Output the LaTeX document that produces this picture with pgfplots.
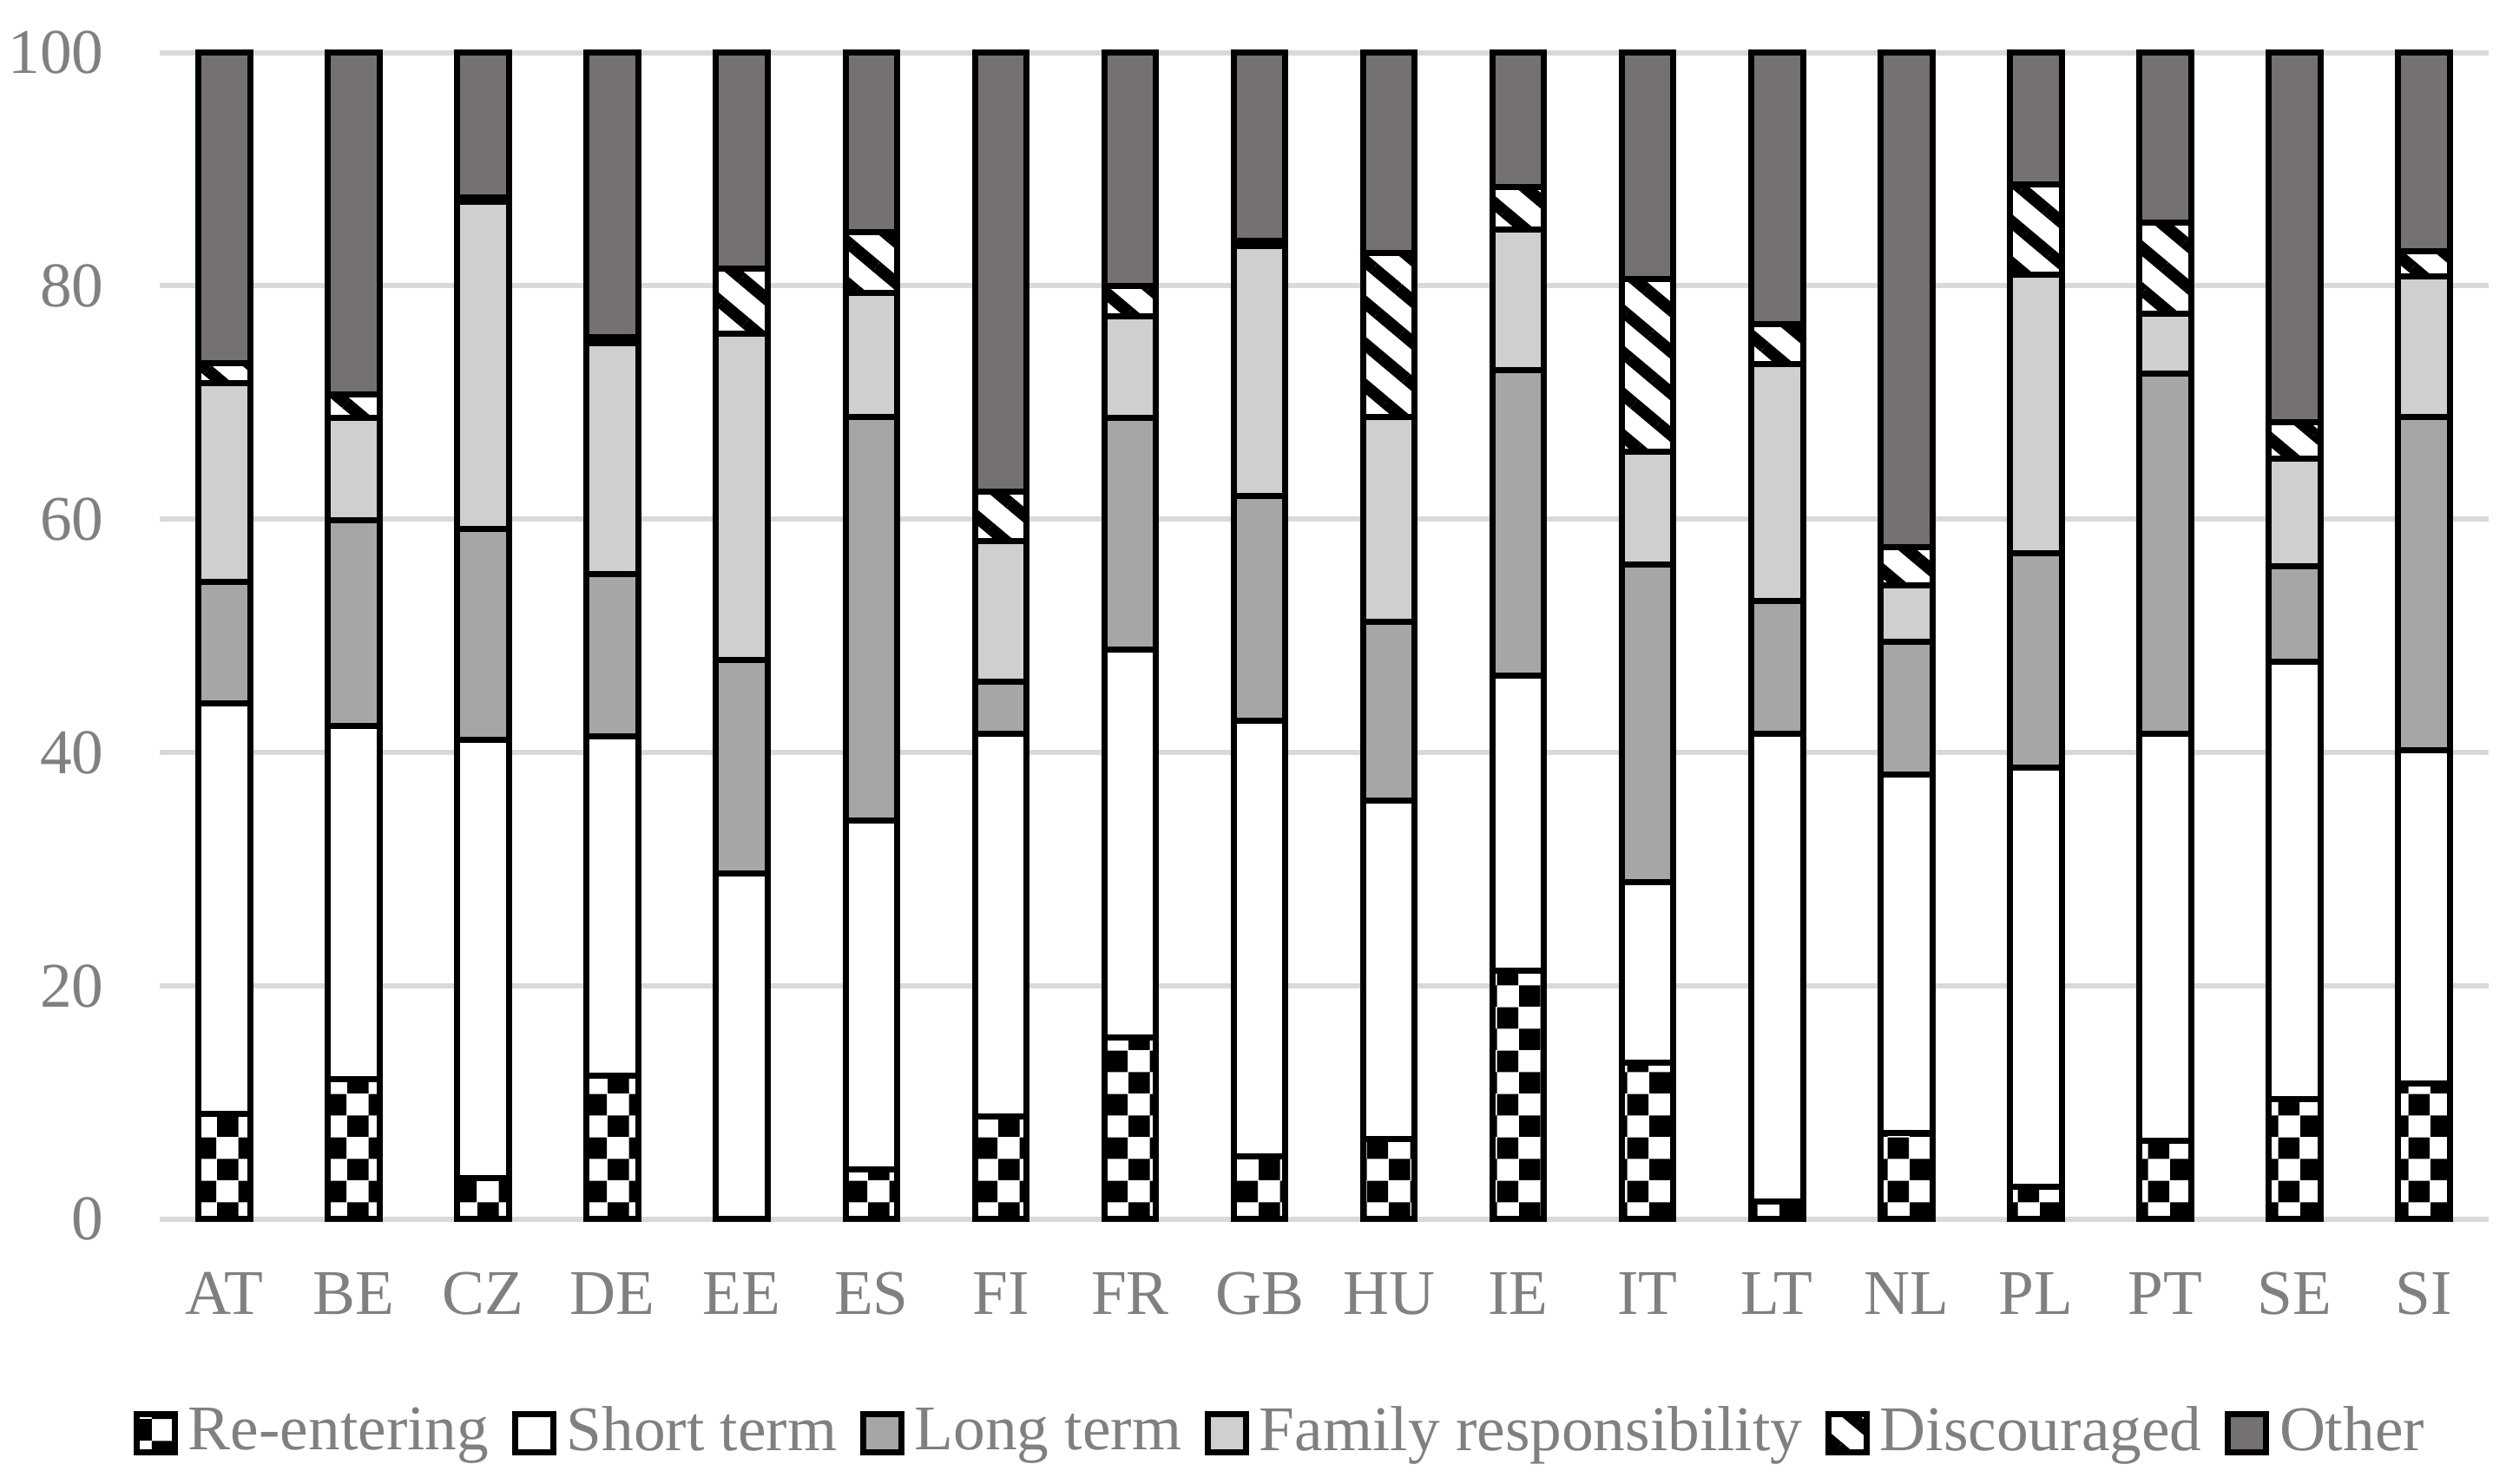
\documentclass[border=0pt]{standalone}
\usepackage{fontspec}
\setmainfont{Liberation Serif}
\usepackage{pgfplots}
\pgfplotsset{compat=1.18}
\usepackage{pgfplotstable}
\usetikzlibrary{patterns,patterns.meta}

\definecolor{othergray}{HTML}{767171}
\definecolor{famgray}{HTML}{D0CECE}
\definecolor{longgray}{HTML}{A6A6A6}
\definecolor{gridgray}{HTML}{D9D9D9}
\definecolor{labelgray}{HTML}{808080}

% large checker board (Excel style)
\pgfdeclarepatternformonly{bigchecker}{\pgfpointorigin}{\pgfqpoint{7.5pt}{7.5pt}}{\pgfqpoint{7.5pt}{7.5pt}}{%
  \pgfpathrectangle{\pgfpointorigin}{\pgfqpoint{3.76pt}{3.76pt}}%
  \pgfpathrectangle{\pgfqpoint{3.75pt}{3.75pt}}{\pgfqpoint{3.76pt}{3.76pt}}%
  \pgfusepath{fill}}

% shares by reason, stacked to 100
\pgfplotstableread{
x  cc  re    short long  fam   disc  other
0  AT  9.0   35.2  10.4  17.1  1.7   26.6
1  BE  12.0  30.3  17.6  8.8   2.0   29.3
2  CZ  3.5   37.6  18.1  28.0  0.4   12.4
3  DE  12.3  29.1  13.9  19.8  0.5   24.4
4  EE  0.0   29.6  18.3  28.0  5.6   18.5
5  ES  4.3   29.9  34.6  10.6  5.2   15.4
6  FI  8.8   32.8  4.5   12.0  4.3   37.6
7  FR  15.6  33.2  19.9  8.7   2.6   20.0
8  GB  5.4   37.3  19.3  21.4  0.5   16.1
9  HU  6.9   29.0  15.3  17.6  14.0  17.2
10 IE  21.3  25.3  26.2  12.0  3.7   11.5
11 IT  13.4  15.5  27.2  9.7   14.8  19.4
12 LT  1.5   40.1  11.4  20.3  3.4   23.3
13 NL  7.4   30.7  11.4  4.8   3.3   42.4
14 PL  2.8   35.9  18.4  23.9  7.7   11.3
15 PT  6.7   34.9  30.9  5.1   7.8   14.6
16 SE  10.3  37.5  8.2   9.2   3.1   31.7
17 SI  11.6  28.6  28.6  12.0  2.2   17.0
}\shares

\begin{document}
\begin{tikzpicture}
\begin{axis}[
    name=ax,
    scale only axis,
    width=402.4pt, height=201.6pt,
    ybar stacked, bar width=0.4,
    xmin=-0.5, xmax=17.5, ymin=0, ymax=100,
    enlargelimits=false, clip=false,
    xtick=data,
    xticklabels={AT,BE,CZ,DE,EE,ES,FI,FR,GB,HU,IE,IT,LT,NL,PL,PT,SE,SI},
    ytick={0,20,...,100},
    major tick length=0pt,
    axis line style={draw=none},
    ymajorgrids, grid style={line width=0.9pt, gridgray},
    /pgf/number format/assume math mode=true,
    tick label style={font=\fontsize{11}{13}\selectfont, text=labelgray},
    yticklabel style={anchor=east, inner sep=0pt, xshift=-9.5pt},
    xticklabel style={anchor=base, inner sep=0pt, yshift=-16.5pt},
    every axis plot/.append style={draw=black, line width=1.05pt},
    legend image code/.code={%
        \draw[#1, line width=1.05pt] (0pt,-3.3pt) rectangle (6.6pt,3.3pt);
        \pgfpathmoveto{\pgfqpoint{7.8pt}{0pt}}\pgfusepath{discard}},
    legend columns=6,
    legend style={at={(0.482,-0.1835)}, anchor=center, draw=none,
                  font=\fontsize{11}{13}\selectfont, text=labelgray,
                  nodes={inner sep=1.05pt},
                  /tikz/every even column/.append style={column sep=3.0pt}},
]
\addplot[preaction={fill=white}, pattern=bigchecker, pattern color=black]
    table[x=x, y=re] {\shares};
\addplot[fill=white] table[x=x, y=short] {\shares};
\addplot[fill=longgray] table[x=x, y=long] {\shares};
\addplot[fill=famgray] table[x=x, y=fam] {\shares};
\addplot[preaction={fill=white}, pattern={Lines[angle=-40, distance=5.5pt, line width=2.1pt]}, pattern color=black]
    table[x=x, y=disc] {\shares};
\addplot[fill=othergray] table[x=x, y=other] {\shares};
\legend{Re-entering, Short term, Long term, Family responsibility, Discouraged, Other}
\end{axis}
\path ([xshift=-27.6pt, yshift=-45.75pt]ax.south west) rectangle ([xshift=3pt, yshift=9.1pt]ax.north east);
\end{tikzpicture}
\end{document}
